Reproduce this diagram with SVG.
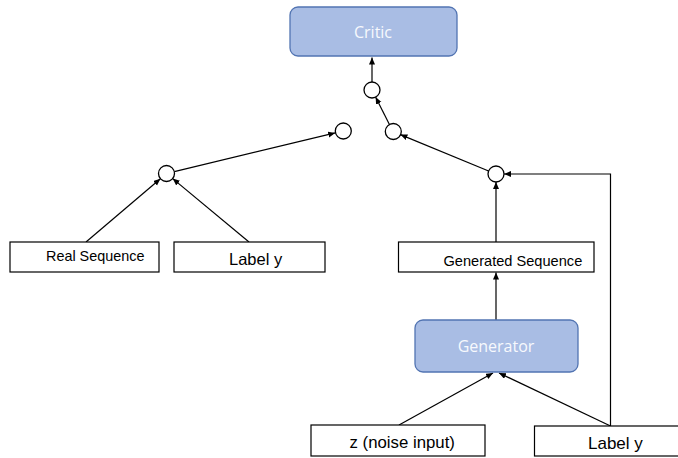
<svg xmlns="http://www.w3.org/2000/svg" width="678" height="458" viewBox="0 0 678 458">
<style>
.blk{fill:#a9bde4;stroke:#5274b2;stroke-width:1.3}
.box{fill:#ffffff;stroke:#000000;stroke-width:1.2}
.node{fill:#ffffff;stroke:#000000;stroke-width:1.3}
.wt{font-family:"Open Sans",sans-serif;font-size:16px;fill:#f7f9fd;text-anchor:middle}
.bt{font-family:"Liberation Sans",Arial,sans-serif;fill:#000000}
.ln{fill:none;stroke:#000000;stroke-width:1.2;marker-end:url(#ah)}
</style>
<defs>
<marker id="ah" markerUnits="userSpaceOnUse" markerWidth="8" markerHeight="7" refX="7" refY="3" orient="auto">
<path d="M0,0 L7,3 L0,6 z" fill="#000000"/>
</marker>
</defs>
<rect width="678" height="458" fill="#ffffff"/>
<g id="connectors">
<line class="ln" x1="372" y1="82" x2="372" y2="57.5"/>
<line class="ln" x1="389.4" y1="124.4" x2="375.6" y2="97.1"/>
<line class="ln" x1="488.6" y1="171" x2="400.4" y2="134.6"/>
<line class="ln" x1="174.3" y1="171.6" x2="335.2" y2="132.9"/>
<line class="ln" x1="86" y1="242" x2="160.4" y2="178.7"/>
<line class="ln" x1="249" y1="242" x2="172.7" y2="178.6"/>
<line class="ln" x1="496" y1="242" x2="496" y2="182"/>
<line class="ln" x1="496" y1="320" x2="496" y2="272.5"/>
<line class="ln" x1="399" y1="425" x2="493" y2="373"/>
<line class="ln" x1="610.5" y1="426" x2="499" y2="373"/>
<polyline class="ln" points="610.5,426 610.5,174 504,174"/>
</g>
<g id="critic">
<rect class="blk" x="290" y="7" width="167" height="49" rx="8"/>
<text class="wt" x="373" y="38">Critic</text>
</g>
<g id="join-top"><circle class="node" cx="372" cy="90" r="8"/></g>
<g id="join-left"><circle class="node" cx="343.3" cy="131" r="8"/></g>
<g id="join-right"><circle class="node" cx="393.3" cy="131.5" r="8"/></g>
<g id="join-real"><circle class="node" cx="166.5" cy="173.5" r="8"/></g>
<g id="join-gen"><circle class="node" cx="496" cy="174" r="8"/></g>
<g id="real-sequence">
<rect class="box" x="10" y="242" width="149" height="30"/>
<text class="bt" x="46" y="261" font-size="14.4">Real Sequence</text>
</g>
<g id="label-y-left">
<rect class="box" x="174" y="242" width="151" height="30"/>
<text class="bt" x="229" y="264.5" font-size="16.5">Label y</text>
</g>
<g id="generated-sequence">
<rect class="box" x="398.5" y="242" width="195.5" height="30"/>
<text class="bt" x="443.5" y="266" font-size="14.6">Generated Sequence</text>
</g>
<g id="generator">
<rect class="blk" x="415" y="320" width="163" height="52" rx="8"/>
<text class="wt" x="496" y="352">Generator</text>
</g>
<g id="noise">
<rect class="box" x="311" y="425" width="174" height="31"/>
<text class="bt" x="349.5" y="447.5" font-size="16.8">z (noise input)</text>
</g>
<g id="label-y-right">
<rect class="box" x="534.5" y="426" width="150" height="30"/>
<text class="bt" x="588" y="448.5" font-size="17">Label y</text>
</g>
</svg>
